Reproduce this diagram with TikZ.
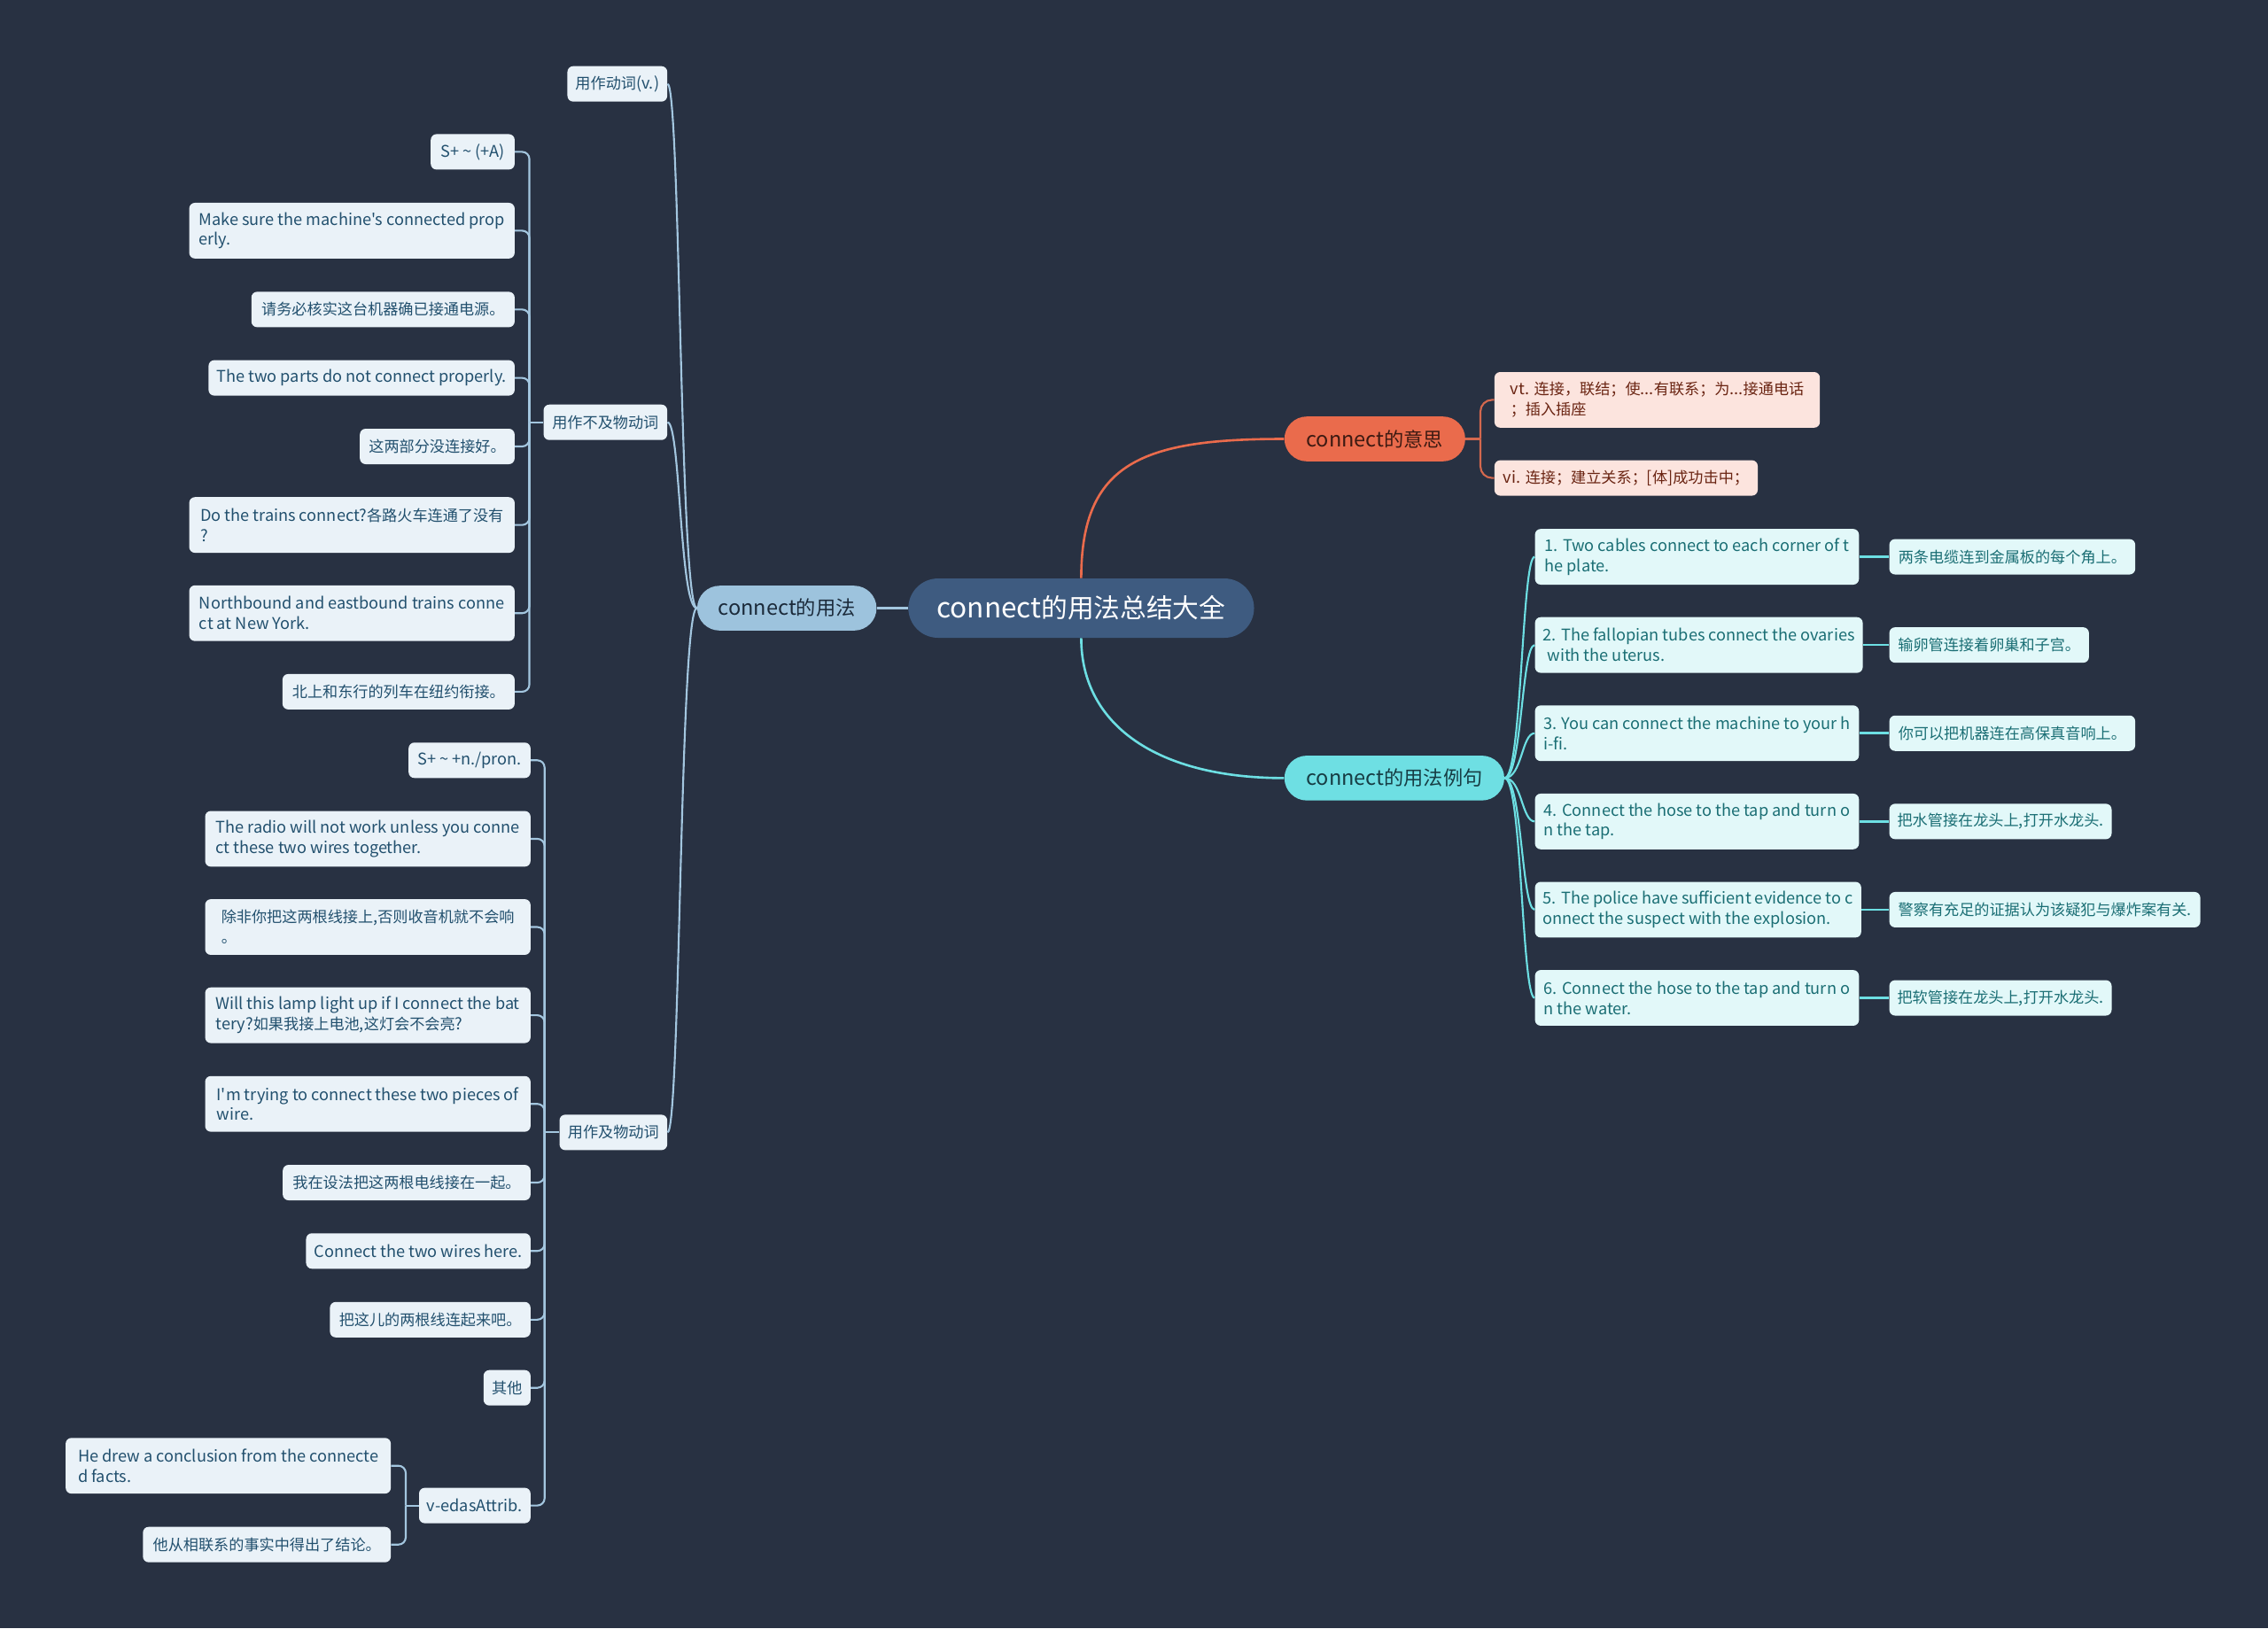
\documentclass[tikz,border=0pt]{standalone}
\usepackage{fontspec}
\setmainfont{Noto Sans CJK SC}
\newfontfamily\cjkf{Noto Sans CJK SC}
\newfontfamily\latf{Noto Sans CJK SC}[Scale=1.06]
\XeTeXinterchartokenstate=1
\newXeTeXintercharclass\CJKcls
\makeatletter
\count@="3000 \loop \XeTeXcharclass\count@=\CJKcls \ifnum\count@<"303F \advance\count@ 1 \repeat
\count@="4E00 \loop \XeTeXcharclass\count@=\CJKcls \ifnum\count@<"9FFF \advance\count@ 1 \repeat
\count@="FF00 \loop \XeTeXcharclass\count@=\CJKcls \ifnum\count@<"FFEF \advance\count@ 1 \repeat
\makeatother
\XeTeXinterchartoks 0 \CJKcls = {\cjkf}
\XeTeXinterchartoks 4095 \CJKcls = {\cjkf}
\XeTeXinterchartoks \CJKcls 0 = {\latf}
\XeTeXinterchartoks \CJKcls 4095 = {\latf}
\definecolor{bg}{HTML}{283142}
\definecolor{rootfill}{HTML}{3E5B80}
\definecolor{usefill}{HTML}{9DC3DD}
\definecolor{usetext}{HTML}{1B2A3A}
\definecolor{lfill}{HTML}{EAF2F8}
\definecolor{ltext}{HTML}{22506E}
\definecolor{lline}{HTML}{A3C6DF}
\definecolor{meanfill}{HTML}{EA6B4C}
\definecolor{meantext}{HTML}{3D1A12}
\definecolor{mfill}{HTML}{FCE4DE}
\definecolor{mtext}{HTML}{6A2412}
\definecolor{mline}{HTML}{D4684E}
\definecolor{exfill}{HTML}{6EDFE3}
\definecolor{extext}{HTML}{173D44}
\definecolor{efill}{HTML}{E2F8F9}
\definecolor{etext}{HTML}{1A6E74}
\definecolor{eline}{HTML}{6DDFE3}
\tikzset{
  every node/.style={font=\fontsize{10.5}{14}\selectfont\latf},
  box/.style={rounded corners=4pt, inner xsep=5.5pt, inner ysep=2pt, align=left, minimum height=24.5pt},
  two/.style={minimum height=38.5pt},
  lbox/.style={box, fill=lfill, text=ltext},
  mbox/.style={box, fill=mfill, text=mtext},
  ebox/.style={box, fill=efill, text=etext},
  pill/.style={rounded corners=15.5pt, minimum height=31pt, inner xsep=8pt, font=\fontsize{13.6}{16}\selectfont\latf},
  lcon/.style={draw=lline, line width=1.3pt},
  lmain/.style={draw=lline, line width=1.6pt},
  mcon/.style={draw=mline, line width=1.3pt},
  mmain/.style={draw=meanfill, line width=1.6pt},
  econ/.style={draw=eline, line width=1.3pt},
  emain/.style={draw=eline, line width=1.6pt},
}
\begin{document}
\begin{tikzpicture}[x=1pt,y=-1pt]
\path[fill=bg, use as bounding box] (0,0) rectangle (1568,1126);

% main nodes
\node[pill, fill=rootfill, text=white, minimum width=239pt, minimum height=41pt, rounded corners=20.5pt, font=\fontsize{18.2}{20}\selectfont\latf] (root) at (747.5,420.5) {connect的用法总结大全};
\node[pill, fill=usefill, text=usetext, minimum width=124pt] (use) at (544,420.5) {connect的用法};
\node[pill, fill=meanfill, text=meantext, minimum width=125pt] (mean) at (950.5,303.5) {connect的意思};
\node[pill, fill=exfill, text=extext, minimum width=152pt] (ex) at (964,538) {connect的用法例句};

% left level 2
\node[lbox, anchor=east, minimum width=69pt] (v1) at (461.5,58) {用作动词(v.)};
\node[lbox, anchor=east, minimum width=85.5pt] (vi) at (461.5,292) {用作不及物动词};
\node[lbox, anchor=east, minimum width=74.5pt] (vt) at (461.5,783) {用作及物动词};

% group A
\node[lbox, anchor=east, minimum width=58pt] (a1) at (356,105) {S+ \textasciitilde{} (+A)};
\node[lbox, two, anchor=east, minimum width=225pt] (a2) at (356,159.5) {Make sure the machine's connected prop\\erly.};
\node[lbox, anchor=east, minimum width=182pt] (a3) at (356,214) {请务必核实这台机器确已接通电源。};
\node[lbox, anchor=east, minimum width=211pt] (a4) at (356,261.3) {The two parts do not connect properly.};
\node[lbox, anchor=east, minimum width=107pt] (a5) at (356,308.7) {这两部分没连接好。};
\node[lbox, two, anchor=east, minimum width=225pt] (a6) at (356,363) {Do the trains connect?各路火车连通了没有\\?};
\node[lbox, two, anchor=east, minimum width=225pt] (a7) at (356,424) {Northbound and eastbound trains conne\\ct at New York.};
\node[lbox, anchor=east, minimum width=160.5pt] (a8) at (356,478.3) {北上和东行的列车在纽约衔接。};

% group B
\node[lbox, anchor=east, minimum width=84.3pt] (b1) at (367,525.7) {S+ \textasciitilde{} +n./pron.};
\node[lbox, two, anchor=east, minimum width=225pt] (b2) at (367,580) {The radio will not work unless you conne\\ct these two wires together.};
\node[lbox, two, anchor=east, minimum width=225pt] (b3) at (367,641) {除非你把这两根线接上,否则收音机就不会响\\。};
\node[lbox, two, anchor=east, minimum width=225pt] (b4) at (367,702) {Will this lamp light up if I connect the bat\\tery?如果我接上电池,这灯会不会亮?};
\node[lbox, two, anchor=east, minimum width=225pt] (b5) at (367,763.3) {I'm trying to connect these two pieces of\\wire.};
\node[lbox, anchor=east, minimum width=171.3pt] (b6) at (367,817.7) {我在设法把这两根电线接在一起。};
\node[lbox, anchor=east, minimum width=153.6pt] (b7) at (367,865) {Connect the two wires here.};
\node[lbox, anchor=east, minimum width=138.7pt] (b8) at (367,912.5) {把这儿的两根线连起来吧。};
\node[lbox, anchor=east, minimum width=32.5pt] (b9) at (367,959.6) {其他};
\node[lbox, anchor=east, minimum width=77pt] (b10) at (367,1041) {v-edasAttrib.};

% group C
\node[lbox, two, anchor=east, minimum width=224.8pt] (c1) at (270.4,1013.5) {He drew a conclusion from the connecte\\d facts.};
\node[lbox, anchor=east, minimum width=171.4pt] (c2) at (270.4,1068) {他从相联系的事实中得出了结论。};

% meaning children
\node[mbox, two, anchor=west, minimum width=225pt] (m1) at (1033,276.5) {vt. 连接，联结；使...有联系；为...接通电话\\；插入插座};
\node[mbox, anchor=west, minimum width=182pt] (m2) at (1033,330.5) {vi. 连接；建立关系；[体]成功击中；};

% examples
\node[ebox, two, anchor=west, minimum width=224pt] (e1) at (1061,385) {1. Two cables connect to each corner of t\\he plate.};
\node[ebox, two, anchor=west, minimum width=224pt] (e2) at (1061,446) {2. The fallopian tubes connect the ovaries\\\hspace*{3pt}with the uterus.};
\node[ebox, two, anchor=west, minimum width=224pt] (e3) at (1061,507) {3. You can connect the machine to your h\\i-fi.};
\node[ebox, two, anchor=west, minimum width=224pt] (e4) at (1061,568) {4. Connect the hose to the tap and turn o\\n the tap.};
\node[ebox, two, anchor=west, minimum width=224pt] (e5) at (1061,629) {5. The police have sufficient evidence to c\\onnect the suspect with the explosion.};
\node[ebox, two, anchor=west, minimum width=224pt] (e6) at (1061,690) {6. Connect the hose to the tap and turn o\\n the water.};

% translations
\node[ebox, anchor=west, minimum width=170pt] (t1) at (1306,385) {两条电缆连到金属板的每个角上。};
\node[ebox, anchor=west, minimum width=138pt] (t2) at (1306,446) {输卵管连接着卵巢和子宫。};
\node[ebox, anchor=west, minimum width=170pt] (t3) at (1306,507) {你可以把机器连在高保真音响上。};
\node[ebox, anchor=west, minimum width=153pt] (t4) at (1306,568) {把水管接在龙头上,打开水龙头.};
\node[ebox, anchor=west, minimum width=215pt] (t5) at (1306,629) {警察有充足的证据认为该疑犯与爆炸案有关.};
\node[ebox, anchor=west, minimum width=153pt] (t6) at (1306,690) {把软管接在龙头上,打开水龙头.};

% trunk points
\coordinate (viT) at (366,292);
\coordinate (vtT) at (376.5,783);
\coordinate (cT) at (280.5,1041);
\coordinate (mT) at (1023.5,303.5);

% connectors: root
\draw[lmain] (root.west) -- (use.east);
\draw[mmain] (root.north) .. controls +(0,-80) and +(-98,0) .. (mean.west);
\draw[emain] (root.south) .. controls +(0,60) and +(-88,0) .. (ex.west);

% use -> level 2
\foreach \c in {v1,vi,vt}
  \draw[lcon] (use.west) .. controls +(-12,0) and +(9,0) .. (\c.east);

% vi -> group A
\draw[lcon] (vi.west) -- (viT);
\foreach \c in {a1,a2,a3,a4,a5,a6,a7,a8}
  \draw[lcon, rounded corners=5pt] (viT) |- (\c.east);

% vt -> group B
\draw[lcon] (vt.west) -- (vtT);
\foreach \c in {b1,b2,b3,b4,b5,b6,b7,b8,b9,b10}
  \draw[lcon, rounded corners=5pt] (vtT) |- (\c.east);

% b10 -> group C
\draw[lcon] (b10.west) -- (cT);
\foreach \c in {c1,c2}
  \draw[lcon, rounded corners=5pt] (cT) |- (\c.east);

% meaning
\draw[mcon] (mean.east) -- (mT);
\foreach \c in {m1,m2}
  \draw[mcon, rounded corners=8pt] (mT) |- (\c.west);

% examples
\foreach \i in {1,...,6} {
  \draw[econ] (ex.east) .. controls +(12,0) and +(-9,0) .. (e\i.west);
  \draw[emain] (e\i.east) -- (t\i.west);
}
\end{tikzpicture}
\end{document}
